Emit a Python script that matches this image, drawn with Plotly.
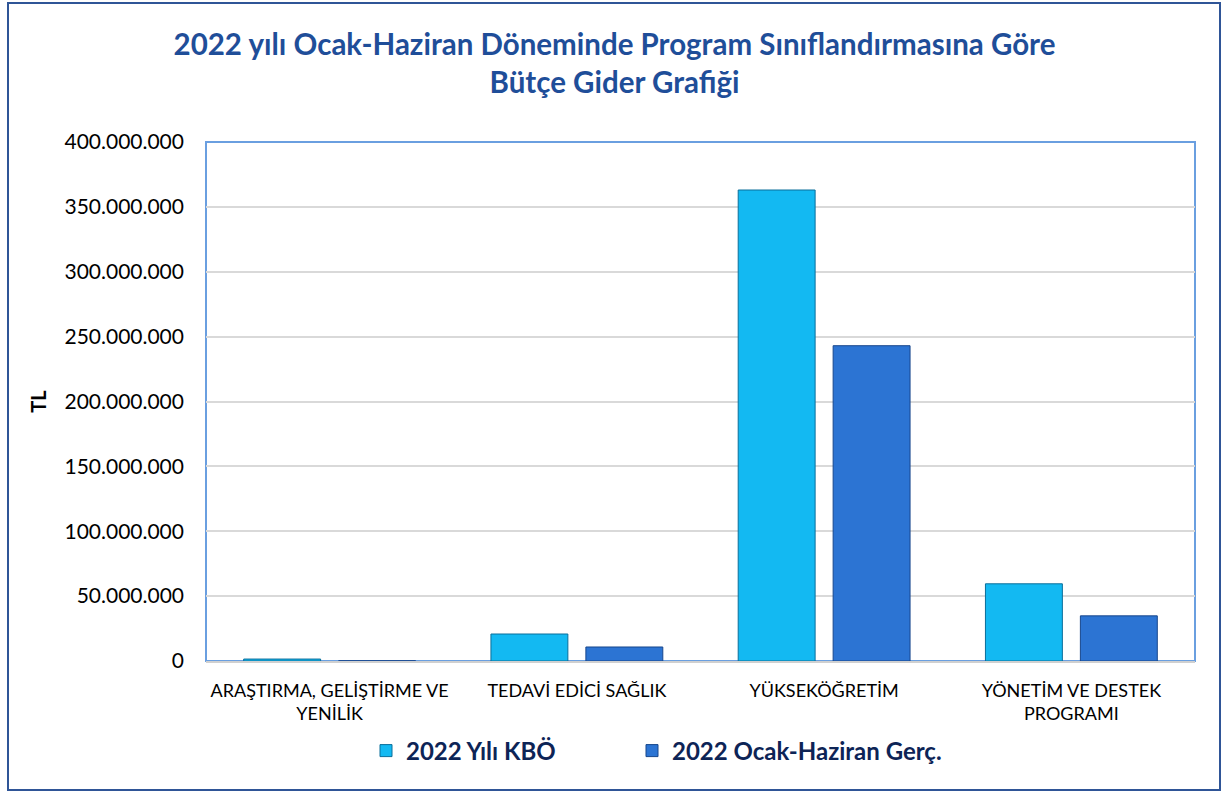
import plotly.graph_objects as go

categories = [
    "ARAŞTIRMA, GELİŞTİRME VE<br>YENİLİK",
    "TEDAVİ EDİCİ SAĞLIK",
    "YÜKSEKÖĞRETİM",
    "YÖNETİM VE DESTEK<br>PROGRAMI",
]
kbo_2022 = [1500000, 20800000, 363000000, 59500000]
gerc_2022 = [150000, 10800000, 243000000, 34800000]
series_names = ["2022 Yılı KBÖ", "2022 Ocak-Haziran Gerç."]

FONT = "Lato"
W, H = 1229, 793
L, R, T, B = 206, 34, 142, 132
pw, ph = W - L - R, H - T - B


def px_x(x):
    return (x - L) / pw


def px_y(y):
    return (H - B - y) / ph


fig = go.Figure()
fig.add_trace(go.Bar(
    x=categories, y=kbo_2022, name=series_names[0],
    legend="legend", showlegend=True,
    marker=dict(color="#13B9F2", line=dict(color="#0A6E9A", width=1)),
))
fig.add_trace(go.Bar(
    x=categories, y=gerc_2022, name=series_names[1],
    legend="legend2", showlegend=True,
    marker=dict(color="#2C74D3", line=dict(color="#17468C", width=1)),
))

legend_font = dict(family=FONT, size=24, color="#0D2456", weight="bold")

fig.update_layout(
    width=W, height=H,
    margin=dict(l=L, r=R, t=T, b=B),
    paper_bgcolor="white", plot_bgcolor="white",
    separators=",.",
    showlegend=True,
    barmode="group", bargap=0.232, bargroupgap=0.19,
    font=dict(family=FONT, color="black"),
    title=dict(
        text="2022 yılı Ocak-Haziran Döneminde Program Sınıflandırmasına Göre<br>Bütçe Gider Grafiği",
        x=0.5, xanchor="center", y=1 - 55 / H, yanchor="middle",
        font=dict(family=FONT, size=29.5, color="#1F4E99", weight="bold"),
    ),
    legend=dict(
        orientation="h", x=px_x(366), y=px_y(751), xanchor="left", yanchor="middle",
        font=legend_font, bgcolor="rgba(0,0,0,0)", visible=True,
    ),
    legend2=dict(
        orientation="h", x=px_x(632), y=px_y(751), xanchor="left", yanchor="middle",
        font=legend_font, bgcolor="rgba(0,0,0,0)", visible=True,
    ),
    shapes=[
        dict(type="rect", xref="paper", yref="paper",
             x0=px_x(8), x1=px_x(1220), y0=px_y(790), y1=px_y(3),
             line=dict(color="#2F5597", width=2), layer="below"),
        dict(type="rect", xref="paper", yref="paper",
             x0=0, x1=1, y0=0, y1=1,
             line=dict(color="#6A9FE0", width=2), layer="below"),
    ],
)

fig.update_yaxes(
    range=[0, 400000000], dtick=50000000, tickformat=",d",
    showgrid=True, gridcolor="#D9D9D9", gridwidth=1.5,
    zeroline=False, showline=False, ticks="",
    ticklabelstandoff=21,
    tickfont=dict(family=FONT, size=21, color="black"),
    title=dict(text="TL", standoff=12,
               font=dict(family=FONT, size=20, color="black", weight="bold")),
)
fig.update_xaxes(
    showline=True, linecolor="#D0D0D0", linewidth=2,
    ticks="", ticklabelstandoff=12,
    tickfont=dict(family=FONT, size=18, color="black"),
)

fig.write_html(
    "out.html",
    config={"displayModeBar": False},
    post_script="document.body.style.margin='0';document.body.style.overflow='hidden';",
)
